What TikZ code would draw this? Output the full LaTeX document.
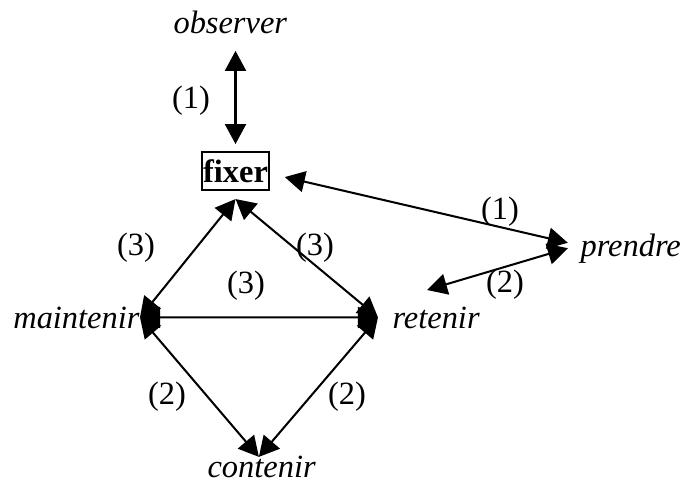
\documentclass[tikz,border=0pt]{standalone}
\usepackage{fontspec}
\setmainfont{Liberation Serif}
\usepackage{tikz}
\usetikzlibrary{arrows.meta,positioning,calc}

\begin{document}
\begin{tikzpicture}[x=0.37pt,y=-0.37pt,
  font=\fontsize{12pt}{14pt}\selectfont,
  verb/.style={font=\fontsize{12pt}{14pt}\selectfont\itshape,inner sep=0pt},
  hub/.style={draw,line width=0.75pt,font=\fontsize{12pt}{14pt}\selectfont\bfseries,
              minimum width=24pt,minimum height=14pt,inner sep=0.5pt},
  fl/.style={{Triangle[length=7.4pt,width=7.8pt]}-{Triangle[length=7.4pt,width=7.8pt]},
             line width=0.75pt},
  lb/.style={inner sep=0pt}]
\useasboundingbox (0,0) rectangle (685,484);

\node[verb,anchor=base west] (obs) at (173,33) {observer};
\node[hub] (fix) at (235.5,171) {fixer};
\node[verb,anchor=base west] (pre) at (580,256) {prendre};
\node[verb,anchor=base east] (mai) at (140,328) {maintenir};
\node[verb,anchor=base west] (ret) at (392,328) {retenir};
\node[verb,anchor=base west] (con) at (207,477) {contenir};
\coordinate (pr) at (427,290);

\draw[fl,shorten <=6.3pt,shorten >=2.6pt] (fix.north |- obs.south) -- (fix.north);
\draw[fl,shorten <=5.5pt] ([yshift=-1pt]fix.east) -- ([xshift=-4.5pt,yshift=2pt]pre.west);
\draw[fl] ([xshift=-4.5pt]pre.west) -- (pr);

\draw[fl] (mai.east) -- ([yshift=-3pt]fix.south);
\draw[fl] ([xshift=-5.2pt]ret.west) -- ([yshift=-3pt]fix.south);
\draw[fl] (mai.east) -- ([xshift=-5.2pt]ret.west);
\draw[fl] (mai.east) -- ([xshift=-1pt,yshift=-0.7pt]con.north);
\draw[fl] ([xshift=-5.2pt]ret.west) -- ([xshift=-1pt,yshift=-0.7pt]con.north);

\node[lb] (l1) at (191,101) {(1)};
\node[lb] (l2) at (500,212) {(1)};
\node[lb] (l3) at (505,285) {(2)};
\node[lb] (l4) at (136,248) {(3)};
\node[lb] (l5) at (315,248) {(3)};
\node[lb] (l6) at (246,286) {(3)};
\node[lb] (l7) at (167,397) {(2)};
\node[lb] (l8) at (347,397) {(2)};
\end{tikzpicture}
\end{document}
